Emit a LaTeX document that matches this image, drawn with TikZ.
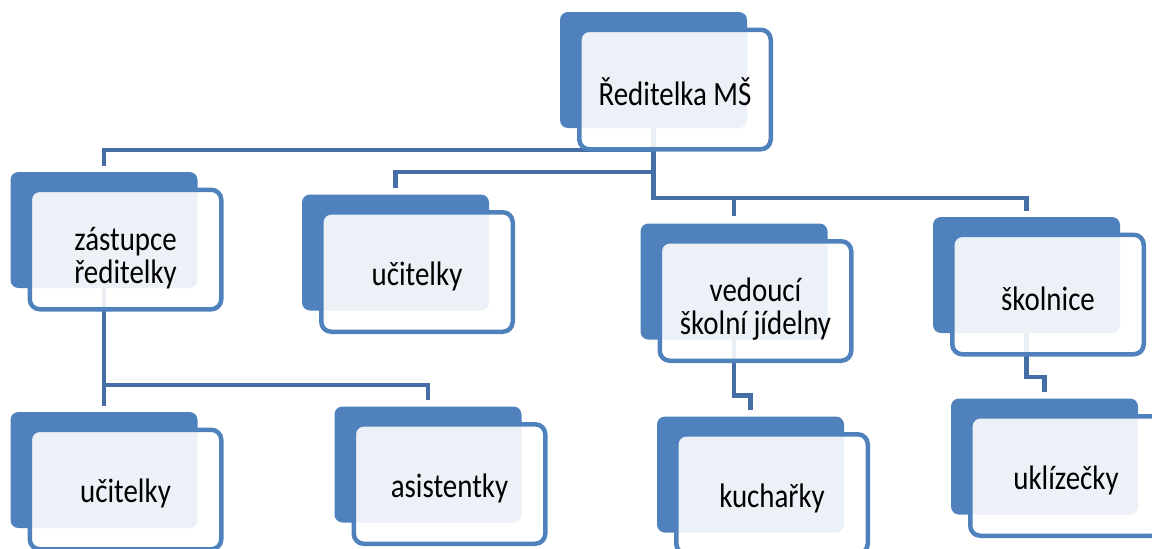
\documentclass[tikz,border=0pt]{standalone}
\usepackage{fontspec}
\setmainfont{Carlito}[FakeStretch=0.85]
\usetikzlibrary{positioning}
\pgfdeclarelayer{background}
\pgfsetlayers{background,main}
\definecolor{boxblue}{RGB}{79,129,189}
\definecolor{linkblue}{RGB}{68,110,165}

\begin{document}
\begin{tikzpicture}[x=1pt,y=-1pt,
    backbox/.style={fill=boxblue, rounded corners=8pt, minimum width=187pt, minimum height=116pt, inner sep=0pt},
    unit/.style={draw=boxblue, line width=4.5pt, fill=white, fill opacity=0.89, text opacity=1,
        rounded corners=10pt, minimum width=191.5pt, minimum height=119.5pt, inner sep=0pt,
        align=center, font=\fontsize{34}{33}\selectfont,
        execute at begin node=\rule{0pt}{32pt}},
    link/.style={draw=linkblue, line width=4.5pt}]
    \useasboundingbox (0,0) rectangle (1152,549);
    \clip (0,0) rectangle (1152,549);

    \node[backbox] (reditelka-b) at (653.5,70) {};
    \node[unit] (reditelka) at ([shift={(21.5,19.5)}]reditelka-b) {Ředitelka MŠ};

    \node[backbox] (zastupce-b) at (104,230) {};
    \node[unit] (zastupce) at ([shift={(21.5,19.5)}]zastupce-b) {\rule{0pt}{40pt}zástupce\\ředitelky};

    \node[backbox] (ucitelky-b) at (395.5,252.5) {};
    \node[unit] (ucitelky) at ([shift={(21.5,19.5)}]ucitelky-b) {učitelky};

    \node[backbox] (vedouci-b) at (734,281.5) {};
    \node[unit] (vedouci) at ([shift={(21.5,19.5)}]vedouci-b) {\rule{0pt}{40pt}vedoucí\\školní jídelny};

    \node[backbox] (skolnice-b) at (1026.5,275) {};
    \node[unit] (skolnice) at ([shift={(21.5,19.5)}]skolnice-b) {školnice};

    \node[backbox] (ucitelky2-b) at (104,470) {};
    \node[unit] (ucitelky2) at ([shift={(21.5,19.5)}]ucitelky2-b) {učitelky};

    \node[backbox] (asistentky-b) at (428,464.5) {};
    \node[unit] (asistentky) at ([shift={(21.5,19.5)}]asistentky-b) {asistentky};

    \node[backbox] (kucharky-b) at (750.5,474.5) {};
    \node[unit] (kucharky) at ([shift={(21.5,19.5)}]kucharky-b) {kuchařky};

    \node[backbox] (uklizecky-b) at (1044.5,456.5) {};
    \node[unit] (uklizecky) at ([shift={(21.5,19.5)}]uklizecky-b) {uklízečky};

    % connectors behind the boxes
    \begin{pgfonlayer}{background}
        \draw[link] (reditelka-b.center) -- ++(0,80) -| ([yshift=6pt]zastupce-b.north);
        \draw[link] (reditelka-b.center) -- ++(0,102) -| ([yshift=6pt]ucitelky-b.north);
        \draw[link] (reditelka-b.center) -- ++(0,128) -| ([yshift=7pt]vedouci-b.north);
        \draw[link] (reditelka-b.center) -- ++(0,128) -| ([yshift=6pt]skolnice-b.north);
        \draw[link] (zastupce-b.center) -- ([yshift=6pt]ucitelky2-b.north);
        \draw[link] (zastupce-b.center) -- ++(0,155) -| ([yshift=6pt]asistentky-b.north);
        \draw[link] (vedouci-b.center) -- ++(0,114) -| ([yshift=6pt]kucharky-b.north);
        \draw[link] (skolnice-b.center) -- ++(0,102) -| ([yshift=6pt]uklizecky-b.north);
    \end{pgfonlayer}
\end{tikzpicture}
\end{document}
